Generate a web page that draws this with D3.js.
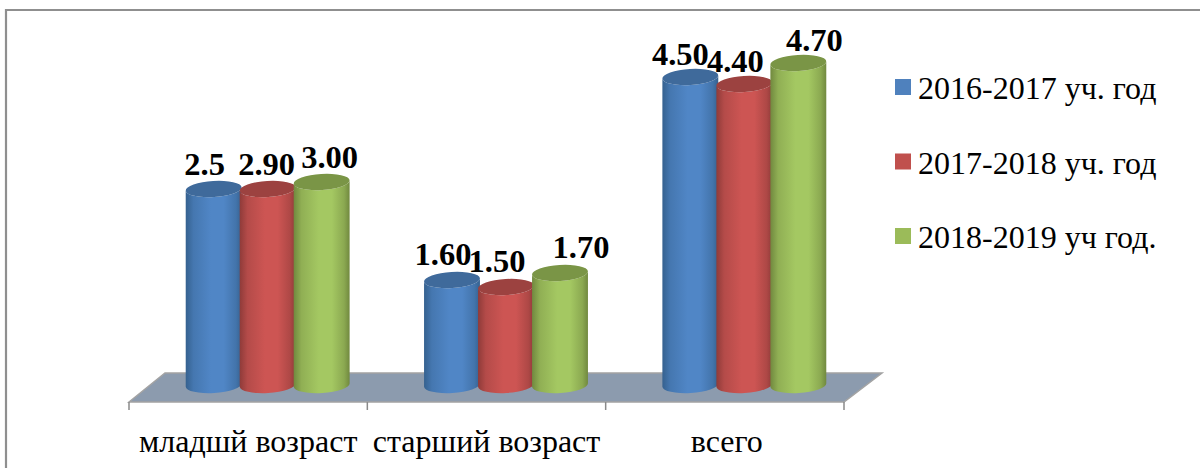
<!DOCTYPE html>
<html><head><meta charset="utf-8">
<script src="https://cdn.jsdelivr.net/npm/d3@7"></script>
<style>html,body{margin:0;padding:0;background:#fff}svg{display:block}text{font-family:"Liberation Serif",serif;fill:#000}</style>
</head><body><div id="c"></div>
<script>
const categories = ["младшй возраст","старший возраст","всего"];
const seriesNames = ["2016-2017 уч. год","2017-2018 уч. год","2018-2019 уч год."];
const heights2016 = [2.9,1.6,4.5];
const heights2017 = [2.9,1.5,4.4];
const heights2018 = [3.0,1.7,4.7];
const labels2016 = ["2.5","1.60","4.50"];
const labels2017 = ["2.90","1.50","4.40"];
const labels2018 = ["3.00","1.70","4.70"];

const W=1200,H=468;
const heights=[heights2016,heights2017,heights2018], labels=[labels2016,labels2017,labels2018];
const mids=["#5086c6","#cd5553","#a4c862"], darks=["#35618f","#8f3b39","#71893f"], tops=["#3f6a9b","#9c4240","#7a9546"];
const legendCols=["#4f81bd","#c0504d","#9bbb59"];
const svg=d3.select("#c").append("svg").attr("width",W).attr("height",H);
const defs=svg.append("defs");
mids.forEach((m,i)=>{
  const g=defs.append("linearGradient").attr("id","g"+i).attr("x1",0).attr("x2",1).attr("y1",0).attr("y2",0);
  [[0,darks[i]],[.14,d3.interpolateRgb(darks[i],m)(.6)],[.45,m],[.68,m],[.9,d3.interpolateRgb(darks[i],m)(.5)],[1,darks[i]]]
    .forEach(s=>g.append("stop").attr("offset",s[0]).attr("stop-color",s[1]));
});
svg.append("path").attr("d","M6,468V10H1200").attr("fill","none").attr("stroke","#8f8f8f").attr("stroke-width",2.2);

const x0=d3.scaleBand().domain(d3.range(3)).range([129,844]);
const depth=19.5, groupW=162, baseY=385, ry=8, tilt=-3.5;
const x1=d3.scaleBand().domain(d3.range(3)).range([0,groupW]);
const y=d3.scaleLinear().domain([0,4.7]).range([392,63]);

svg.append("path").attr("d",`M${x0.range()[0]},402L165,373H882L${x0.range()[1]},402Z`)
  .attr("fill","#8c9bae").attr("stroke","#a3a3a3").attr("stroke-width",1.5);
const tickVals=[0,1,2].map(i=>x0(i)).concat(x0.range()[1]);
svg.selectAll(".tk").data(tickVals).join("line").attr("x1",d=>d).attr("x2",d=>d).attr("y1",402).attr("y2",410).attr("stroke","#8a8a8a").attr("stroke-width",1.5);

const dx=[[-9,-1,8],[-9,-9,21],[-10,-9,16]];
const dy=[14,15,12];
function bar(cx,top,w){
  const rx=w/2, a=tilt*Math.PI/180, ex=rx*Math.cos(a), ey=rx*Math.sin(a);
  return {
    body:`M${cx-ex},${top-ey}L${cx-ex},${baseY-ey}A${rx},${ry} ${tilt} 0 0 ${cx+ex},${baseY+ey}L${cx+ex},${top+ey}A${rx},${ry} ${tilt} 0 1 ${cx-ex},${top-ey}Z`,
    rx
  };
}
categories.forEach((c,ci)=>{
  heights.forEach((hs,si)=>{
    const w=x1.bandwidth()+2;
    const cx=x0(ci)+x0.bandwidth()/2+depth-groupW/2+x1(si)+x1.bandwidth()/2;
    const t=y(hs[ci]);
    const b=bar(cx,t,w);
    svg.append("path").attr("d",b.body).attr("fill",`url(#g${si})`);
    svg.append("ellipse").attr("cx",cx).attr("cy",t).attr("rx",b.rx).attr("ry",ry)
      .attr("transform",`rotate(${tilt} ${cx} ${t})`).attr("fill",tops[si]);
    svg.append("text").attr("x",cx+dx[ci][si]).attr("y",t-dy[ci]).attr("text-anchor","middle")
      .attr("font-size",32.5).attr("font-weight","bold").text(labels[si][ci]);
  });
  svg.append("text").attr("x",x0(ci)+x0.bandwidth()/2+(ci==2?2:0)).attr("y",452).attr("text-anchor","middle").attr("font-size",32).text(c);
});
const ly=d3.scalePoint().domain(d3.range(3)).range([87,236]);
seriesNames.forEach((n,i)=>{
  svg.append("rect").attr("x",895).attr("y",ly(i)-8).attr("width",16).attr("height",16).attr("fill",legendCols[i]);
  svg.append("text").attr("x",918).attr("y",ly(i)+12).attr("font-size",32).text(n);
});
</script></body></html>
